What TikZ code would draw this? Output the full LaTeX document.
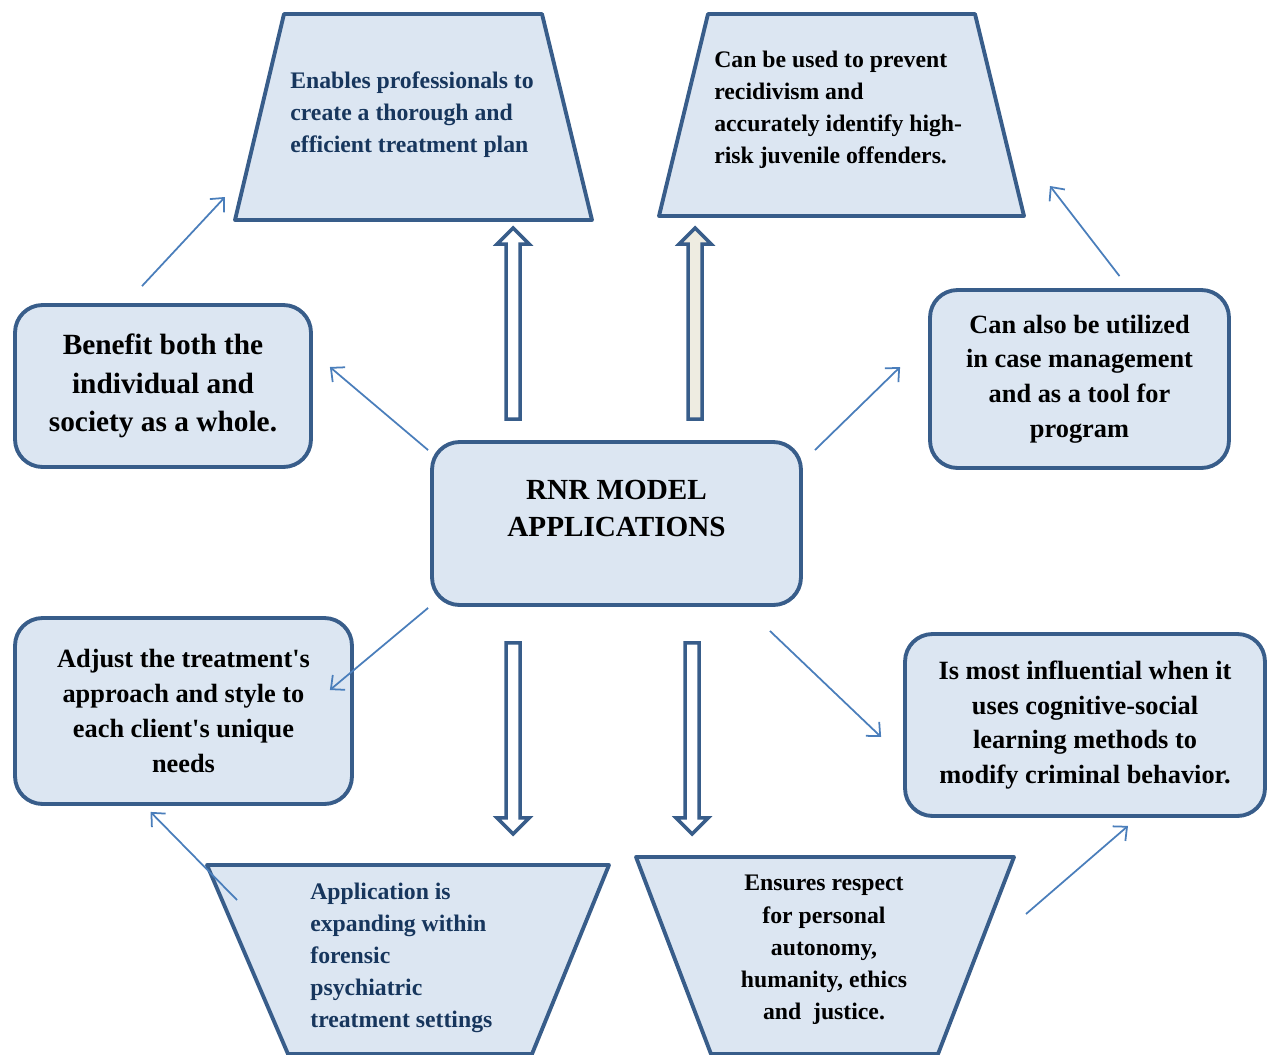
\documentclass[tikz,border=0pt]{standalone}
\usepackage{fontspec}
\setmainfont{Liberation Serif}
\usetikzlibrary{positioning,arrows.meta,calc}
\definecolor{boxblue}{RGB}{56,93,138}
\definecolor{paleblue}{RGB}{220,230,242}
\definecolor{linkblue}{RGB}{74,126,187}
\definecolor{inkblue}{RGB}{23,54,93}
\definecolor{paper}{RGB}{238,236,225}

\begin{document}
\begin{tikzpicture}[x=0.02cm, y=-0.02cm,
  box/.style={rectangle, draw=boxblue, fill=paleblue, line width=2.2pt, rounded corners=0.55cm,
              align=center, font=\bfseries\fontsize{15}{19.8}\selectfont},
  trap/.style={draw=boxblue, fill=paleblue, line width=2.2pt, line join=round},
  traptext/.style={inner sep=0pt, font=\bfseries\fontsize{13.5}{18.3}\selectfont},
  link/.style={-{Straight Barb[length=6pt,width=11pt]}, linkblue, line width=1pt},
  fat/.style={draw=boxblue, line width=2pt, fill=white},
  fatarrow/.pic={\path[pic actions] (-7,0) -- (-7,-175) -- (-16,-175) -- (0,-191) -- (16,-175) -- (7,-175) -- (7,0) -- cycle;}]
  \useasboundingbox (0,0) rectangle (1269,1055);

  % boxes
  \node[box, minimum width=5.92cm, minimum height=3.24cm, font=\bfseries\fontsize{16.7}{22.1}\selectfont]
    (benefit) at (163,386) {Benefit both the\\individual and\\society as a whole.};
  \node[box, minimum width=7.38cm, minimum height=3.26cm] (rnr) at (616.5,523.5) {};
  \node[font=\bfseries\fontsize{16.6}{21.5}\selectfont, align=center] (rnrtext)
    at ([shift={(0,-15)}]rnr.center) {RNR MODEL\\APPLICATIONS};
  \node[box, minimum width=5.98cm, minimum height=3.56cm] (utilized) at (1079.5,379)
    {Can also be utilized\\in case management\\and as a tool for\\program};
  \node[box, minimum width=6.74cm, minimum height=3.72cm] (adjust) at (183.5,711)
    {Adjust the treatment\textquotesingle s\\approach and style to\\each client\textquotesingle s unique\\needs};
  \node[box, minimum width=7.2cm, minimum height=3.64cm] (influence) at (1085,725)
    {Is most influential when it\\uses cognitive-social\\learning methods to\\modify criminal behavior.};

  % trapezoids
  \draw[trap] (284,14) -- (542,14) -- (592,220) -- (235,220) coordinate (plan-sw) -- cycle;
  \node[traptext, text=inkblue, align=left, anchor=west] (plan) at (290,115)
    {Enables professionals to\\create a thorough and\\efficient treatment plan};
  \draw[trap] (708,14) -- (975,14) -- (1024,216) coordinate (recid-se) -- (659,216) -- cycle;
  \node[traptext, align=left, anchor=west] (recid) at (714,110)
    {Can be used to prevent\\recidivism and\\accurately identify high-\\risk juvenile offenders.};
  \draw[trap] (207,865) coordinate (forensic-nw) -- (609,865) -- (532,1054) -- (288,1054) -- cycle;
  \node[traptext, text=inkblue, align=left, anchor=west] (forensic) at (310,958)
    {Application is\\expanding within\\forensic\\psychiatric\\treatment settings};
  \draw[trap] (636,857) -- (1014,857) coordinate (respect-ne) -- (938,1054) -- (711,1054) -- cycle;
  \node[traptext, align=center] (respect) at (824,950)
    {Ensures respect\\for personal\\autonomy,\\humanity, ethics\\and~ justice.};

  % hollow arrows
  \pic[fat] at ([shift={(83,-21)}]rnr.north west) {fatarrow};
  \pic[fat, fill=paper] at ([shift={(265,-21)}]rnr.north west) {fatarrow};
  \pic[fat, rotate=180] at ([shift={(83,36)}]rnr.south west) {fatarrow};
  \pic[fat, rotate=180] at ([shift={(262,36)}]rnr.south west) {fatarrow};

  % thin links
  \draw[link] ([shift={(-21,-17)}]benefit.north) -- ([shift={(-10,-23)}]plan-sw);
  \draw[link] ([shift={(-2,10)}]rnr.north west) -- ([shift={(17,-19)}]benefit.east);
  \draw[link] ([shift={(12,10)}]rnr.north east) -- ([shift={(-28,-12)}]utilized.west);
  \draw[link] ([shift={(40,-12)}]utilized.north) -- ([shift={(26,-30)}]recid-se);
  \draw[link] ([shift={(-2,1)}]rnr.south west) -- ([shift={(-24,-21)}]adjust.east);
  \draw[link] ([shift={(-33,24)}]rnr.south east) -- ([shift={(-22,12)}]influence.west);
  \draw[link] ([shift={(30,35)}]forensic-nw) -- ([shift={(-33,6)}]adjust.south);
  \draw[link] ([shift={(12,57)}]respect-ne) -- ([shift={(43,8)}]influence.south);
\end{tikzpicture}
\end{document}
